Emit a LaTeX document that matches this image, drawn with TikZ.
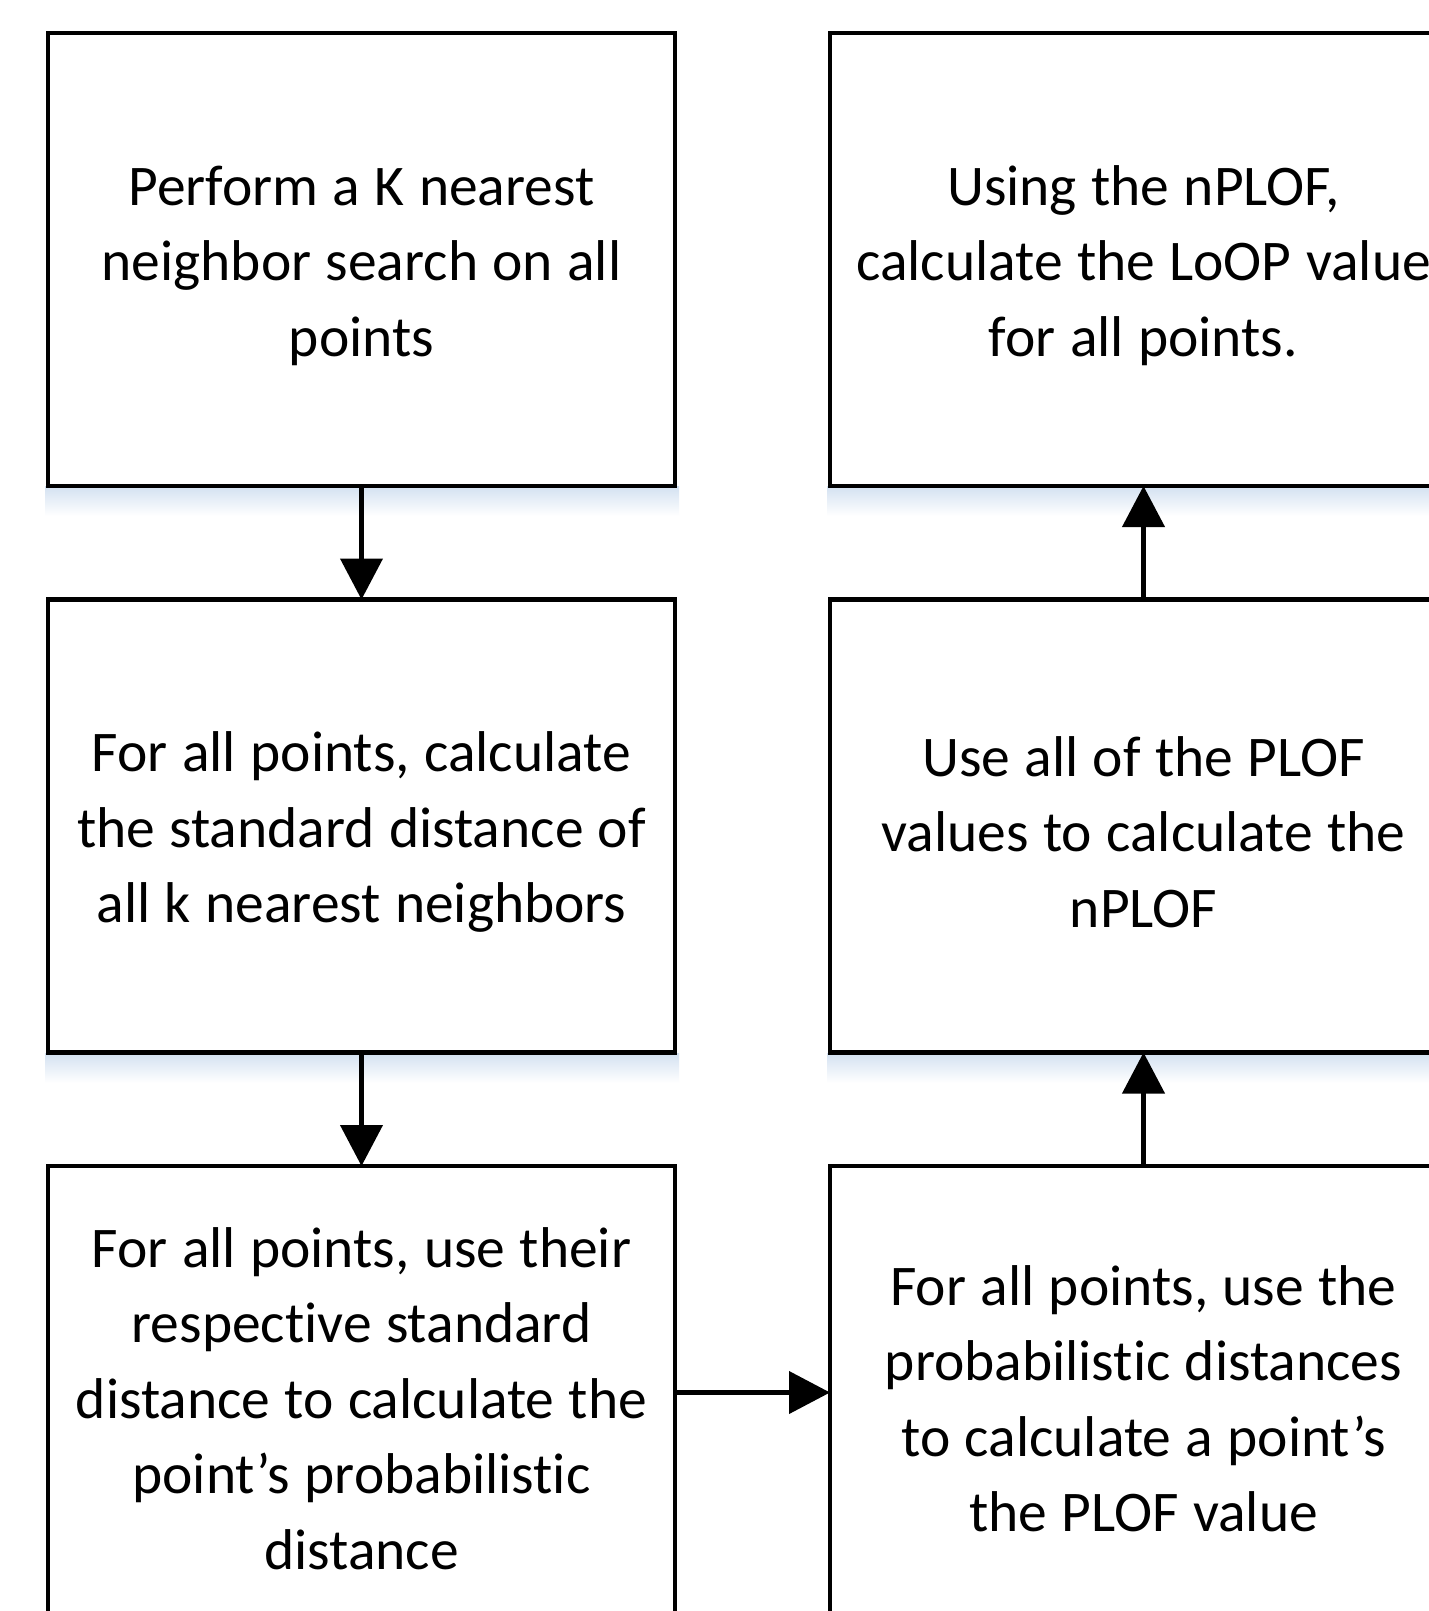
\documentclass[tikz,border=0pt]{standalone}
\usepackage{fontspec}
\setmainfont{Carlito}[Ligatures=NoCommon]
\usetikzlibrary{arrows.meta}
\definecolor{shadowblue}{HTML}{D3E1F1}
\tikzset{
  procbox/.style={draw=black, line width=4.2pt, fill=white,
    minimum width=627pt, minimum height=453pt, text width=620pt,
    align=flush center, inner sep=0pt, outer sep=0pt,
    font=\fontsize{57.5}{75.5}\selectfont,
    execute at begin node={\spaceskip=0.25em\relax},
    execute at end node={\par\vspace{-12pt}}},
  flow/.style={line width=4.2pt, -{Triangle[length=41pt,width=42pt]}},
  boxshadow/.style={top color=shadowblue, bottom color=white, draw=none}
}
\begin{document}
\begin{tikzpicture}[x=1pt, y=-1pt]
  \clip (0,0) rectangle (1429,1611);
  \fill[white] (0,0) rectangle (1429,1611);

  % soft shadows under the upper two rows
  \shade[boxshadow] (45,486) rectangle (679,516);
  \shade[boxshadow] (45,1053) rectangle (679,1083);
  \shade[boxshadow] (827,486) rectangle (1461,516);
  \shade[boxshadow] (827,1053) rectangle (1461,1083);

  % left column
  \node[procbox] (knn) at (361.5,259.5)
    {Perform a K nearest\\ neighbor search on all\\ points};
  \node[procbox] (std) at (361.5,826)
    {For all points, calculate\\ the standard distance of\\ all k nearest neighbors};
  \node[procbox] (pd) at (361.5,1392.5)
    {For all points, use their\\ respective standard\\ distance to calculate the\\ point’s probabilistic\\ distance};

  % right column
  \node[procbox] (plof) at (1143.5,1392.5)
    {For all points, use the\\ probabilistic distances\\ to calculate a point’s\\ the PLOF value};
  \node[procbox] (nplof) at (1143.5,826)
    {Use all of the PLOF\\ values to calculate the\\ nPLOF};
  \node[procbox] (loop) at (1143.5,259.5)
    {Using the nPLOF,\\ calculate the LoOP value\\ for all points.};

  % connectors
  \draw[flow] (knn.south) -- (std.north);
  \draw[flow] (std.south) -- (pd.north);
  \draw[flow] (pd.east) -- (plof.west);
  \draw[flow] (plof.north) -- (nplof.south);
  \draw[flow] (nplof.north) -- (loop.south);
\end{tikzpicture}
\end{document}
